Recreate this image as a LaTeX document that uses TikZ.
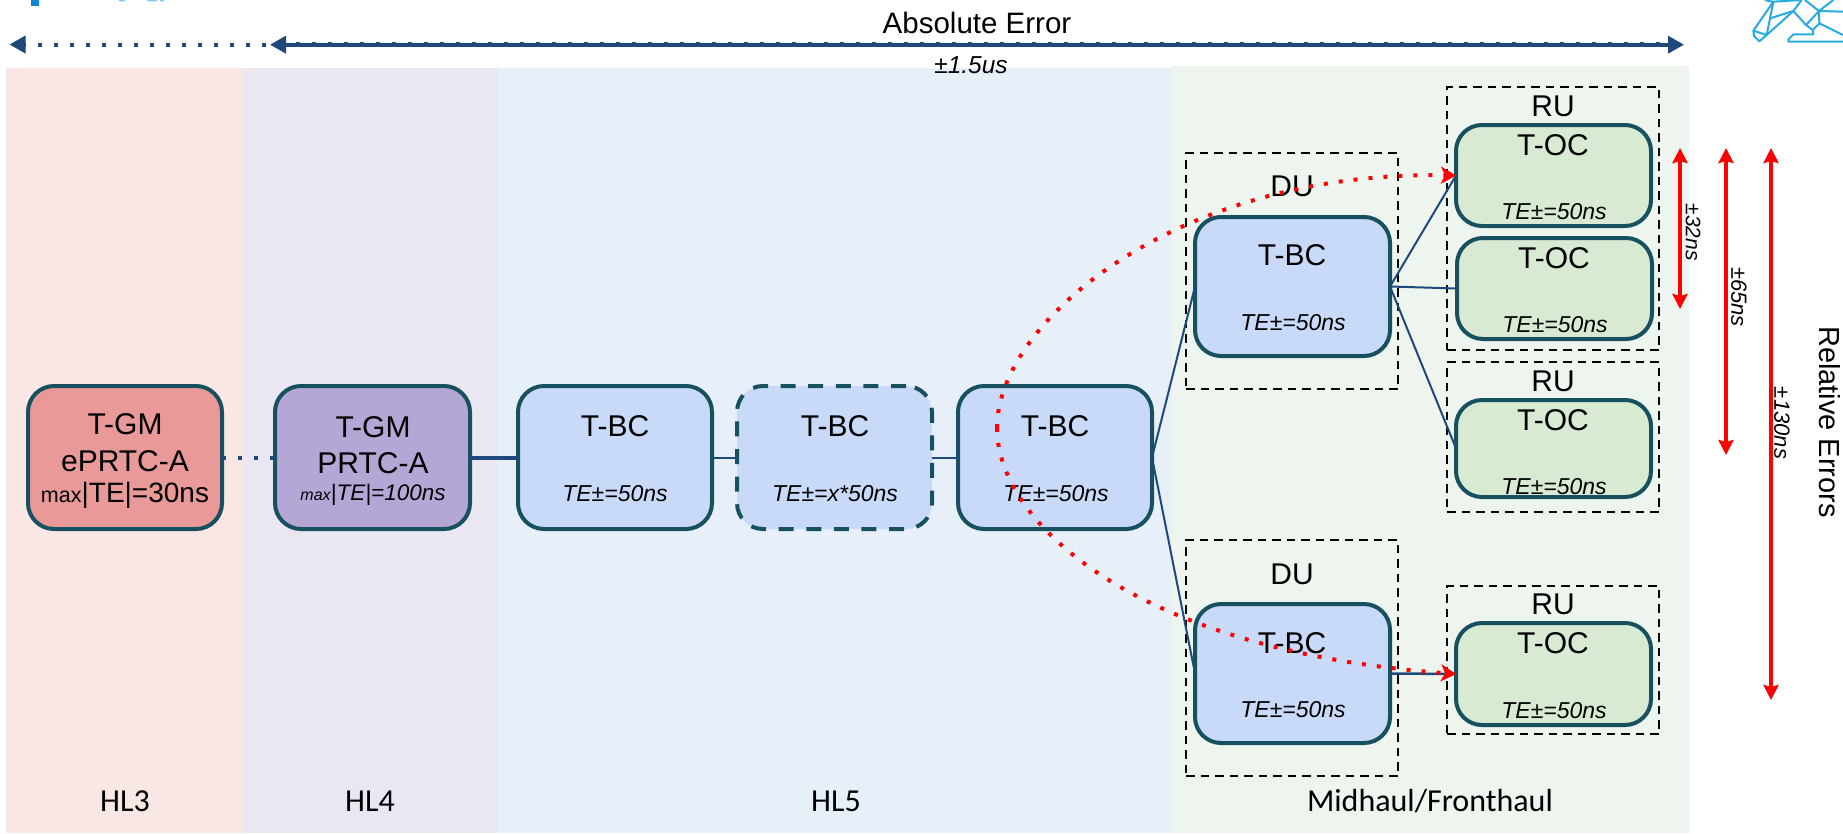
\documentclass[tikz,border=0pt]{standalone}
\usepackage{fontspec}
\setmainfont{Liberation Sans}
\newfontfamily\calfont{Carlito}
\usetikzlibrary{arrows.meta}
\definecolor{bandA}{HTML}{F9E7E6}
\definecolor{bandB}{HTML}{EAE7F2}
\definecolor{bandC}{HTML}{E7EFF9}
\definecolor{bandD}{HTML}{EEF5EE}
\definecolor{edgeC}{HTML}{17505E}
\definecolor{linkC}{HTML}{1F497D}
\definecolor{logoC}{HTML}{29ABE2}
\definecolor{fillGMa}{HTML}{EA9999}
\definecolor{fillGMb}{HTML}{B4A7D6}
\definecolor{fillBC}{HTML}{C9DAF8}
\definecolor{fillOC}{HTML}{D9EAD3}
\newcommand{\fs}[1]{\fontsize{#1}{#1}\selectfont}
\newcommand{\mybox}[6]{%
  \pgfmathsetmacro{\bw}{#4-#2}\pgfmathsetmacro{\bh}{#5-#3}%
  \pgfmathsetmacro{\bx}{(#4+#2)/2}\pgfmathsetmacro{\by}{(#5+#3)/2}%
  \node[#6,minimum width=\bw pt,minimum height=\bh pt] (#1) at (\bx,\by) {};}
\tikzset{
  x=1pt,y=-1pt,
  bandbox/.style={draw=none,inner sep=0,outer sep=0},
  devbox/.style={draw=edgeC,line width=4pt,rounded corners=26pt,inner sep=0,outer sep=0},
  devdash/.style={devbox,dash pattern=on 15pt off 12.6pt},
  groupbox/.style={draw=black,line width=1.6pt,dash pattern=on 8.5pt off 6pt,inner sep=0,outer sep=0},
  big/.style={inner sep=0,yshift=-1.5pt,font=\fs{30}},
  te/.style={inner sep=0,font=\fs{23}\itshape},
  hl/.style={inner sep=0,font=\calfont\fs{32}},
  errlab/.style={inner sep=0,rotate=-90},
  link/.style={draw=linkC,line width=2pt},
  dotline/.style={draw=linkC,line width=4pt,dash pattern=on 4pt off 12pt},
  redcurve/.style={draw=red,line width=4pt,dash pattern=on 4pt off 11pt,-{Stealth[length=15pt,width=17pt,inset=4pt,sep=0pt]}},
  redspan/.style={draw=red,line width=3.4pt,{Stealth[length=15pt,width=15pt,inset=2pt]}-{Stealth[length=15pt,width=15pt,inset=2pt]}},
  logoline/.style={draw=logoC,line width=2pt,line join=round},
}
\begin{document}
\begin{tikzpicture}
\useasboundingbox (0,0) rectangle (1843,833);
\path[fill=white] (0,0) rectangle (1843,833);
% bands
\mybox{bA}{6}{68}{243}{833}{bandbox,fill=bandA}
\mybox{bB}{243}{68}{498}{833}{bandbox,fill=bandB}
\mybox{bC}{498}{68}{1172}{833}{bandbox,fill=bandC}
\mybox{bD}{1172}{66}{1689}{833}{bandbox,fill=bandD}
% logo fragments
\fill[color=cyan!70!blue] (31,0) rectangle (39,5.5);
\fill[color=logoC!60] (119,0) rectangle (125,1.3) (147,0) rectangle (157,1.3) (160,0) rectangle (164,1.3);
\begin{scope}[shift={(1730,0)},x=0.3333pt,y=-0.3333pt,logoline]
\clip (0,0) rectangle (339,150);
\draw (105,0)--(115,3)--(130,5)--(215,0);
\draw (130,5)--(70,92)--(72,108)--(88,124)--(110,105)--(190,33);
\draw (70,92)--(110,105);
\draw (130,5)--(120,55)--(110,105);
\draw (120,55)--(190,33)--(215,0);
\draw (190,33)--(228,75)--(267,33)--(225,0);
\draw (228,75)--(248,90)--(250,103)--(190,103)--(175,118)--(175,125)--(339,125);
\draw (267,33)--(268,70)--(248,90);
\draw (268,70)--(339,105);
\draw (267,33)--(339,35);
\draw (267,33)--(310,0);
\end{scope}
% top arrows
\coordinate (absL) at (266,44.5);
\coordinate (absE) at (9.5,44.5);
\coordinate (absS) at (270,44.7);
\coordinate (absR) at (1684,44.7);
\coordinate (absDa) at (280,43.6);
\coordinate (absDb) at (1668,43.6);
\draw[dotline,-{Triangle[length=16pt,width=17pt,sep=0pt]}] (absL) -- (absE);
\draw[draw=linkC,line width=3.6pt,{Triangle[length=16pt,width=17pt]}-{Triangle[length=16pt,width=17pt]}] (absS) -- (absR);
\draw[dotline] (absDa) -- (absDb);
\node[inner sep=0,font=\fs{29.5}] (tAbs) at (977,23) {Absolute Error};
\node[inner sep=0,font=\fs{24.5}\itshape] (tPm) at (971,65) {±1.5us};
% group frames
\mybox{du1}{1186}{153}{1398}{389}{groupbox}
\mybox{du2}{1186}{540}{1398}{776}{groupbox}
\mybox{ru1}{1447}{87}{1659}{350}{groupbox}
\mybox{ru2}{1447}{362}{1659}{512}{groupbox}
\mybox{ru3}{1447}{586}{1659}{734}{groupbox}
% devices
\mybox{gm1}{28}{386}{222}{529}{devbox,fill=fillGMa}
\mybox{gm2}{275}{386}{470}{529}{devbox,fill=fillGMb}
\mybox{bc1}{518}{386}{712}{529}{devbox,fill=fillBC}
\mybox{bc2}{737}{386}{932}{529}{devdash,fill=fillBC}
\mybox{bc3}{958}{386}{1152}{529}{devbox,fill=fillBC}
\mybox{bc4}{1195}{217}{1390}{356}{devbox,fill=fillBC}
\mybox{bc5}{1195}{604}{1390}{743}{devbox,fill=fillBC}
\mybox{oc1}{1456}{125}{1651}{226}{devbox,fill=fillOC}
\mybox{oc2}{1457}{238}{1652}{339}{devbox,fill=fillOC}
\mybox{oc3}{1456}{400}{1651}{497}{devbox,fill=fillOC}
\mybox{oc4}{1456}{623}{1651}{725}{devbox,fill=fillOC}
% links
\draw[dotline] (gm1.east) -- (gm2.west);
\draw[link,line width=4pt] (gm2.east) -- (bc1.west);
\draw[link] (bc1.east) -- (bc2.west);
\draw[link] (bc2.east) -- (bc3.west);
\draw[link] (bc3.east) -- (bc4.west);
\draw[link] (bc3.east) -- (bc5.west);
\draw[link] (bc4.east) -- (oc1.west);
\draw[link] (bc4.east) -- (oc2.west);
\draw[link] (bc4.east) -- (oc3.west);
\draw[link,line width=2.5pt] (bc5.east) -- (oc4.west);
% text
\node[big] (t1a) at (125,423) {T-GM};
\node[big] (t1b) at (125,460) {ePRTC-A};
\node[inner sep=0] (t1c) at (125,495) {{\fs{21.5}max}{\fs{28}|TE|=30ns}};
\node[big] (t2a) at (373,426) {T-GM};
\node[big] (t2b) at (373,462) {PRTC-A};
\node[inner sep=0,font=\itshape] (t2c) at (373,495) {{\fs{16}max}{\fs{22.5}|TE|=100ns}};
\node[big] (t3a) at (615,425) {T-BC};
\node[te] (t3b) at (615,494) {TE±=50ns};
\node[big] (t4a) at (835,425) {T-BC};
\node[te] (t4b) at (835,494) {TE±=x*50ns};
\node[big] (t5a) at (1055,425) {T-BC};
\node[te] (t5b) at (1056,494) {TE±=50ns};
\node[big] (t6a) at (1292,254) {T-BC};
\node[te] (t6b) at (1293,323) {TE±=50ns};
\node[big] (t7a) at (1292,642) {T-BC};
\node[te] (t7b) at (1293,710) {TE±=50ns};
\node[big] (t8a) at (1553,144) {T-OC};
\node[te] (t8b) at (1554,212) {TE±=50ns};
\node[big] (t9a) at (1554,257) {T-OC};
\node[te] (t9b) at (1555,325) {TE±=50ns};
\node[big] (t10a) at (1553,419) {T-OC};
\node[te] (t10b) at (1554,487) {TE±=50ns};
\node[big] (t11a) at (1553,642) {T-OC};
\node[te] (t11b) at (1554,711) {TE±=50ns};
\node[big] (tdu1) at (1292,185) {DU};
\node[big] (tdu2) at (1292,573) {DU};
\node[big] (tru1) at (1553,105) {RU};
\node[big] (tru2) at (1553,380) {RU};
\node[big] (tru3) at (1553,603) {RU};
\node[hl] (hl3) at (125,801) {HL3};
\node[hl] (hl4) at (370,801) {HL4};
\node[hl] (hl5) at (836,801) {HL5};
\node[hl] (hlm) at (1430,801) {Midhaul/Fronthaul};
% red curves
\coordinate (rc) at (997,428);
\draw[redcurve] (rc) .. controls (997,320) and (1180,170) .. (oc1.west);
\draw[redcurve] (rc) .. controls (997,520) and (1130,650) .. (oc4.west);
% red spans
\coordinate (s1a) at (1680,148); \coordinate (s1b) at (1680,309);
\coordinate (s2a) at (1726,148); \coordinate (s2b) at (1726,455);
\coordinate (s3a) at (1771,148); \coordinate (s3b) at (1771,700);
\draw[redspan] (s1a) -- (s1b);
\draw[redspan] (s2a) -- (s2b);
\draw[redspan] (s3a) -- (s3b);
\node[errlab,font=\fs{21}\itshape] (e1) at (1693,232) {±32ns};
\node[errlab,font=\fs{22}\itshape] (e2) at (1739,297) {±65ns};
\node[errlab,font=\fs{22}\itshape] (e3) at (1782,423) {±130ns};
\node[errlab,font=\fs{29}] (rel) at (1830,422) {Relative Errors};
\end{tikzpicture}
\end{document}
